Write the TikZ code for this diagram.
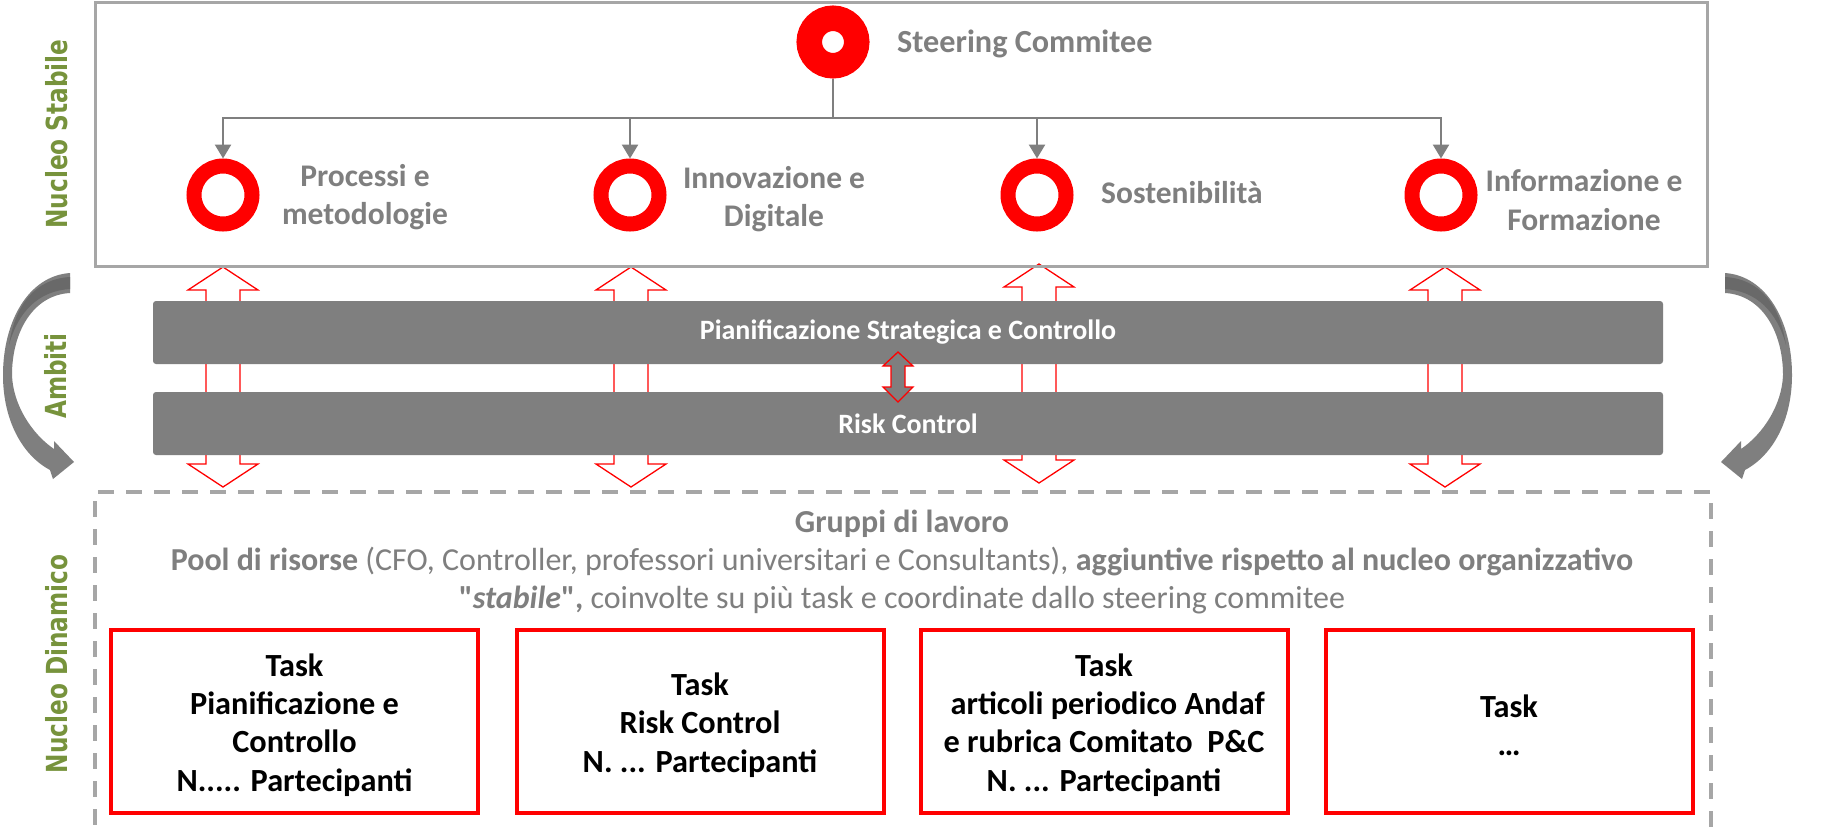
\documentclass[tikz,border=0pt]{standalone}
\usepackage{fontspec}
\setmainfont{Carlito}[Ligatures=TeXOff]
\newfontfamily\dejavu{DejaVu Sans}
\usetikzlibrary{arrows.meta}
\definecolor{frameg}{HTML}{A6A6A6}
\definecolor{txtg}{HTML}{7F7F7F}
\definecolor{barg}{HTML}{7F7F7F}
\definecolor{redc}{HTML}{FF0000}
\definecolor{greenc}{HTML}{77933C}
\definecolor{darkg}{HTML}{696969}
\newcommand\hollowUD[3]{%
  \draw[hollow] (#1,#2) -- ({#1+35},{#2+23}) -- ({#1+17},{#2+23}) -- ({#1+17},{#3-23})
    -- ({#1+35},{#3-23}) -- (#1,#3) -- ({#1-35},{#3-23}) -- ({#1-17},{#3-23})
    -- ({#1-17},{#2+23}) -- ({#1-35},{#2+23}) -- cycle;}
\begin{document}
\begin{tikzpicture}[x=1pt,y=-1pt,
  frame/.style={draw=frameg, line width=3pt},
  ringbig/.style={circle, draw=redc, line width=25.5pt, minimum size=47.5pt, inner sep=0pt},
  ring/.style={circle, draw=redc, line width=15pt, minimum size=58pt, inner sep=0pt},
  lbl/.style={text=txtg, font=\bfseries\fontsize{31.5}{38.5}\selectfont, align=center, inner sep=0pt},
  conn/.style={draw=txtg, line width=2.5pt, -{Triangle[width=16pt,length=14pt]}},
  bar/.style={fill=barg, rounded corners=3pt, minimum width=1510pt, minimum height=63pt, inner sep=0pt,
    text=white, font=\bfseries\fontsize{28}{32}\selectfont},
  side/.style={text=greenc, font=\dejavu\bfseries\fontsize{29}{34}\selectfont, rotate=90, inner sep=0pt},
  hollow/.style={draw=redc, fill=white, line width=1.3pt},
  smallarr/.style={draw=redc, fill=barg, line width=1.3pt},
  task/.style={draw=redc, line width=4pt, minimum width=367pt, minimum height=183pt, inner sep=0pt},
  tasktxt/.style={align=center, inner sep=0pt, font=\bfseries\fontsize{32.3}{38.3}\selectfont},
  dashln/.style={draw=frameg, line width=3.5pt, dash pattern=on 16pt off 12pt},
  grp/.style={text=txtg, font=\fontsize{32}{38}\selectfont, inner sep=0pt},
  curv/.style={fill=barg},
  curvdark/.style={fill=darkg},
]
\useasboundingbox (0,0) rectangle (1825,828);
\fill[white] (0,0) rectangle (1825,828);
\clip (0,0) rectangle (1825,828);

% side labels
\node[side] (ns) at (57,134) {\scalebox{0.8}[1]{Nucleo Stabile}};
\node[side] (amb) at (56,376) {\scalebox{0.8}[1]{Ambiti}};
\node[side] (nd) at (57,664) {\scalebox{0.8}[1]{Nucleo Dinamico}};

% curved arrows (left)
\fill[curv] (70,273) .. controls (28,276) and (3,322) .. (3,375)
  .. controls (3,420) and (22,455) .. (50,470) -- (53,479) -- (74,462) -- (54,441)
  -- (54,449) .. controls (32,434) and (13,405) .. (12,375)
  .. controls (12,332) and (33,295) .. (70,293) -- cycle;
\fill[curvdark] (70,277) .. controls (35,279) and (15,305) .. (9,345)
  .. controls (18,312) and (38,291) .. (70,289) -- cycle;
% curved arrow (right, mirrored)
\fill[curv] (1725,273) .. controls (1767,276) and (1792,322) .. (1792,375)
  .. controls (1792,420) and (1773,455) .. (1745,470) -- (1742,479) -- (1721,462) -- (1741,441)
  -- (1741,449) .. controls (1763,434) and (1782,405) .. (1783,375)
  .. controls (1783,332) and (1762,295) .. (1725,293) -- cycle;
\fill[curvdark] (1725,277) .. controls (1760,279) and (1780,305) .. (1786,345)
  .. controls (1777,312) and (1757,291) .. (1725,289) -- cycle;

% hollow double arrows
\hollowUD{223}{267}{487}
\hollowUD{631}{267}{487}
\hollowUD{1039}{264}{483}
\hollowUD{1445}{267}{487}

% top box
\draw[frame] (95,2.5) rectangle (1707,266);

% bars
\node[bar] (b1) at (908,332.5) {Pianificazione Strategica e Controllo};
\node[bar] (b2) at (908,423.5) {Risk Control};

% small double arrow
\draw[smallarr] (898,352) -- (913,366) -- (905,366) -- (905,387) -- (913,387) -- (898,402)
  -- (883,387) -- (891,387) -- (891,366) -- (883,366) -- cycle;

% steering + rings
\node[ringbig] (sc) at (833,42) {};
\node[ring] (c1) at (223,195) {};
\node[ring] (c2) at (630,195) {};
\node[ring] (c3) at (1037,195) {};
\node[ring] (c4) at (1441,195) {};
\coordinate (bus) at (833,118);
\draw[draw=txtg, line width=2.5pt] (sc.south) -- (bus);
\foreach \c in {c1,c2,c3,c4} \draw[conn] (bus) -| (\c.north);

\node[lbl, anchor=base west, font=\bfseries\fontsize{32.2}{38.5}\selectfont] (sct) at (897,52) {Steering Commitee};
\node[lbl] (t1) at (365,197) {Processi e\\metodologie};
\node[lbl] (t2) at (774,199) {Innovazione e\\Digitale};
\node[lbl, anchor=base west] (t3) at (1101,203) {Sostenibilità};
\node[lbl] (t4) at (1584,200) {Informazione e\\Formazione};

% dashed box
\draw[dashln] (98,492) -- (1711,492);
\draw[dashln] (95,501) -- (95,840);
\draw[dashln] (1711,503) -- (1711,840);

\node[grp, anchor=base] (g1) at (902,532) {\textbf{Gruppi di lavoro}};
\node[grp, anchor=base] (g2) at (902,570) {\textbf{Pool di risorse} (CFO, Controller, professori universitari e Consultants), \textbf{aggiuntive rispetto al nucleo organizzativo}};
\node[grp, anchor=base] (g3) at (902,608) {\textbf{"\textit{stabile}",} coinvolte su più task e coordinate dallo steering commitee};

% task boxes
\node[task] (k1) at (294.5,721.5) {};
\node[task] (k2) at (700,721.5) {};
\node[task] (k3) at (1104,721.5) {};
\node[task] (k4) at (1509,721.5) {};
\node[tasktxt] (kt1) at ([yshift=-3.5pt]k1.center) {Task\\Pianificazione e\\Controllo\\N..... Partecipanti};
\node[tasktxt] (kt2) at ([yshift=-3.5pt]k2.center) {Task\\Risk Control\\N. ... Partecipanti};
\node[tasktxt] (kt3) at ([yshift=-3.5pt]k3.center) {Task\\\ articoli periodico Andaf\\e rubrica Comitato\ \ P\&C\\N. ... Partecipanti};
\node[tasktxt] (kt4) at ([yshift=-3.5pt]k4.center) {Task\\…};
\end{tikzpicture}
\end{document}
